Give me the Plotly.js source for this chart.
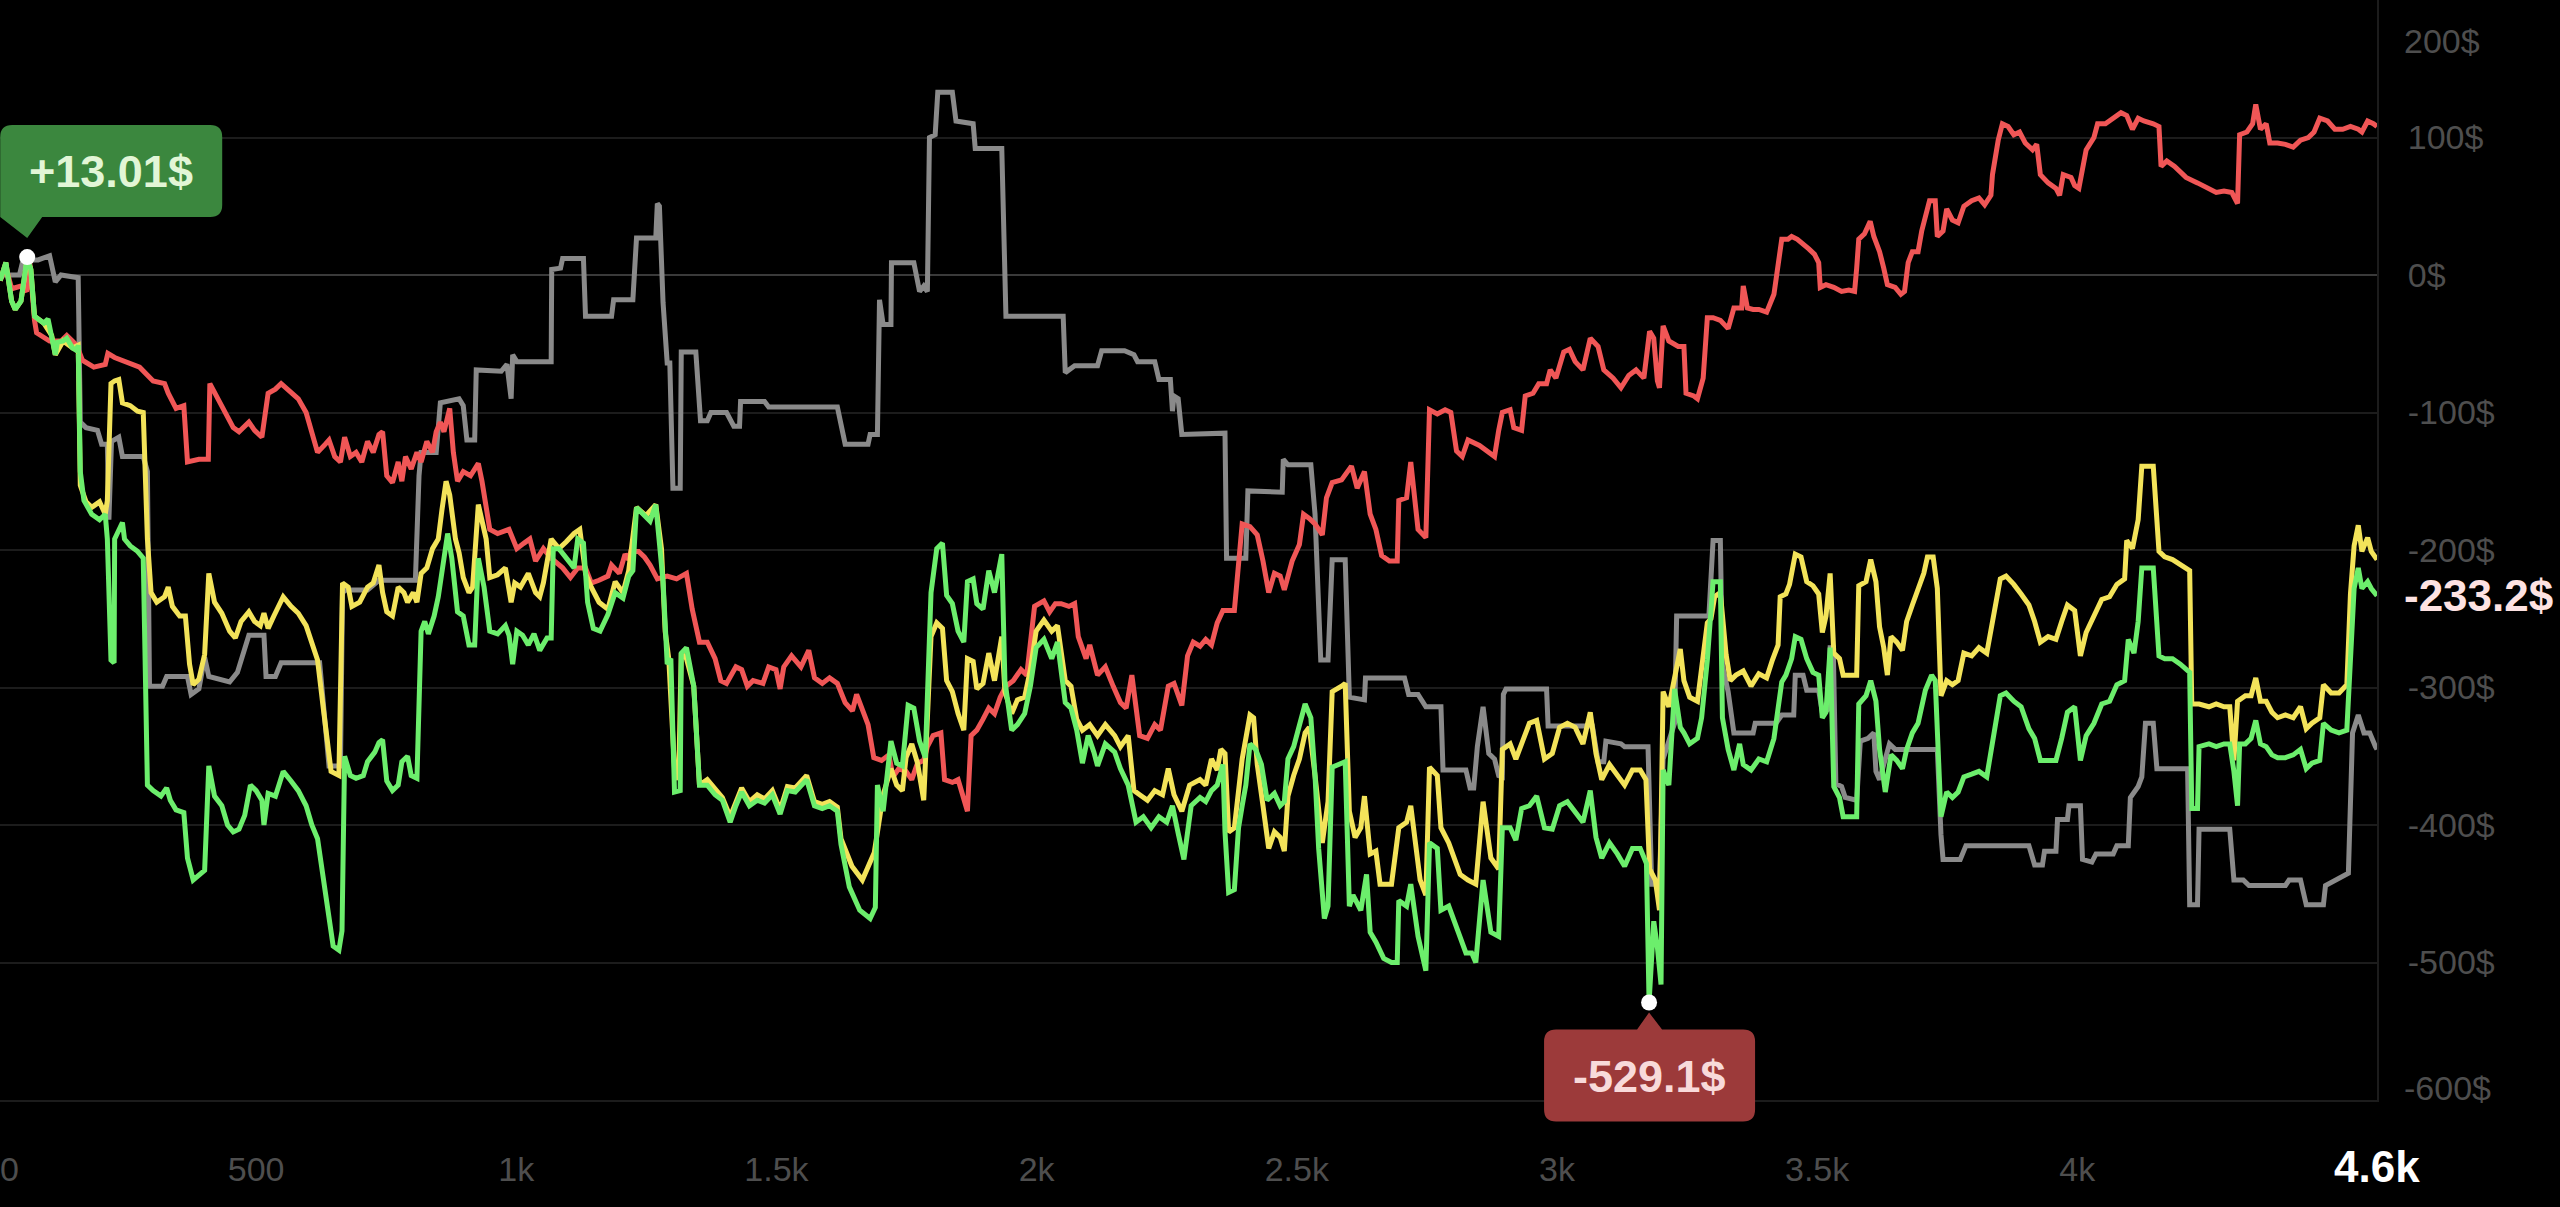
<!DOCTYPE html>
<html>
<head>
<meta charset="utf-8">
<script src="https://cdn.plot.ly/plotly-3.0.1.min.js"></script>
<style>
  html, body { margin: 0; padding: 0; background: #000; }
  #myDiv { width: 2560px; height: 1207px; }
</style>
</head>
<body>
<div id="myDiv"></div>
<script>
// series: [step, pnl $]
var grayPts = [[8,0],[45,0],[52,11],[81,11],[103,14],[114,-5],[125,0],[158,-2],[162,-107],[173,-111],[195,-113],[203,-123],[214,-123],[217,-178],[222,-121],[236,-118],[243,-132],[283,-132],[291,-143],[295,-299],[320,-299],[328,-292],[368,-292],[375,-305],[390,-301],[401,-278],[409,-292],[449,-296],[464,-289],[478,-273],[486,-262],[515,-262],[519,-292],[537,-292],[548,-282],[622,-282],[629,-312],[640,-357],[662,-357],[666,-231],[673,-229],[714,-229],[736,-222],[806,-222],[813,-146],[817,-129],[846,-129],[854,-93],[890,-90],[898,-95],[905,-120],[920,-120],[923,-69],[971,-70],[982,-65],[990,-90],[993,-58],[1001,-63],[1067,-63],[1068,4],[1085,5],[1089,12],[1129,12],[1133,-30],[1183,-30],[1187,-18],[1224,-18],[1231,27],[1268,27],[1271,52],[1275,50],[1279,16],[1282,-20],[1290,-64],[1295,-64],[1301,-155],[1315,-155],[1317,-56],[1345,-56],[1354,-106],[1367,-106],[1374,-100],[1404,-100],[1418,-110],[1429,-110],[1431,-92],[1477,-92],[1485,-96],[1617,-96],[1632,-123],[1676,-123],[1680,-116],[1694,-116],[1698,-18],[1705,-36],[1720,-36],[1721,9],[1764,9],[1775,-12],[1783,-8],[1790,-12],[1794,100],[1805,102],[1810,133],[1838,133],[1845,112],[1878,110],[1882,92],[1933,92],[1941,-30],[2051,-30],[2055,-71],[2073,-66],[2117,-66],[2125,-55],[2169,-55],[2187,-58],[2194,-63],[2227,-63],[2235,-76],[2257,-76],[2261,-99],[2264,-88],[2272,-90],[2279,-116],[2362,-115],[2365,-206],[2402,-206],[2406,-157],[2472,-158],[2474,-134],[2483,-138],[2527,-138],[2535,-174],[2546,-280],[2560,-280],[2568,-207],[2593,-207],[2601,-307],[2630,-309],[2632,-293],[2707,-293],[2715,-305],[2733,-305],[2748,-314],[2777,-314],[2781,-360],[2825,-360],[2833,-373],[2840,-373],[2847,-343],[2858,-314],[2869,-348],[2880,-352],[2888,-364],[2895,-365],[2897,-305],[2902,-301],[2980,-301],[2983,-328],[3068,-328],[3079,-354],[3090,-354],[3094,-339],[3123,-341],[3130,-343],[3175,-343],[3182,-443],[3197,-443],[3204,-352],[3226,-326],[3230,-248],[3292,-248],[3300,-193],[3314,-193],[3318,-284],[3329,-303],[3340,-333],[3377,-333],[3381,-326],[3421,-326],[3432,-320],[3455,-320],[3458,-291],[3473,-291],[3480,-302],[3503,-302],[3510,-318],[3521,-316],[3525,-271],[3531,-271],[3536,-370],[3547,-372],[3554,-380],[3576,-382],[3583,-339],[3598,-337],[3609,-333],[3613,-361],[3620,-367],[3639,-341],[3650,-345],[3731,-345],[3738,-407],[3742,-425],[3775,-425],[3786,-415],[3907,-415],[3918,-429],[3933,-429],[3937,-419],[3959,-419],[3962,-396],[3981,-396],[3984,-386],[4006,-386],[4010,-425],[4028,-427],[4036,-421],[4069,-421],[4076,-415],[4098,-415],[4102,-380],[4117,-372],[4124,-365],[4131,-326],[4146,-326],[4153,-359],[4212,-359],[4216,-458],[4231,-458],[4234,-403],[4293,-403],[4301,-440],[4319,-440],[4330,-444],[4400,-444],[4407,-440],[4429,-440],[4440,-458],[4473,-458],[4477,-444],[4518,-435],[4521,-435],[4529,-333],[4540,-320],[4551,-333],[4562,-333],[4573,-343],[4576,-345]];

var redPts = [[8,-4],[19,6],[30,-10],[48,-8],[59,-12],[65,9],[74,-33],[78,-42],[103,-48],[125,-48],[136,-44],[155,-51],[166,-62],[188,-67],[210,-65],[215,-57],[228,-60],[265,-65],[276,-67],[302,-77],[324,-79],[331,-86],[346,-97],[361,-95],[368,-136],[390,-134],[408,-134],[411,-79],[427,-90],[442,-100],[456,-111],[467,-114],[486,-107],[497,-113],[511,-118],[523,-86],[537,-83],[548,-79],[567,-86],[581,-90],[596,-100],[611,-118],[618,-129],[633,-123],[640,-120],[651,-132],[662,-136],[670,-118],[681,-132],[692,-129],[703,-136],[714,-121],[725,-129],[736,-116],[743,-114],[751,-146],[762,-151],[773,-136],[780,-150],[787,-132],[798,-141],[809,-129],[817,-136],[828,-121],[839,-129],[846,-114],[854,-107],[861,-114],[872,-97],[879,-129],[887,-150],[898,-143],[912,-146],[927,-137],[934,-150],[949,-185],[964,-188],[986,-185],[1001,-199],[1015,-195],[1026,-192],[1037,-208],[1052,-199],[1067,-206],[1089,-213],[1104,-220],[1118,-213],[1133,-213],[1144,-224],[1159,-222],[1176,-219],[1183,-211],[1198,-217],[1209,-203],[1216,-207],[1220,-201],[1235,-201],[1246,-205],[1257,-211],[1271,-221],[1290,-219],[1308,-221],[1327,-217],[1338,-243],[1352,-267],[1367,-267],[1382,-279],[1393,-295],[1404,-297],[1422,-285],[1433,-287],[1444,-299],[1455,-295],[1474,-297],[1485,-285],[1499,-287],[1507,-301],[1514,-285],[1529,-277],[1547,-285],[1562,-273],[1573,-293],[1588,-297],[1602,-293],[1617,-297],[1632,-311],[1646,-317],[1654,-305],[1668,-319],[1676,-327],[1687,-351],[1702,-353],[1716,-349],[1724,-365],[1735,-359],[1749,-361],[1760,-367],[1771,-355],[1783,-353],[1790,-343],[1801,-335],[1816,-333],[1823,-367],[1838,-369],[1849,-367],[1856,-375],[1867,-390],[1874,-335],[1885,-331],[1897,-323],[1908,-315],[1919,-319],[1930,-307],[1941,-299],[1955,-295],[1970,-287],[1981,-291],[1996,-241],[2014,-237],[2025,-245],[2036,-239],[2047,-239],[2062,-241],[2073,-239],[2080,-263],[2095,-279],[2102,-269],[2117,-291],[2132,-285],[2147,-299],[2161,-311],[2172,-315],[2183,-291],[2198,-335],[2213,-337],[2227,-327],[2238,-331],[2253,-299],[2264,-297],[2279,-313],[2290,-277],[2301,-267],[2314,-270],[2325,-265],[2336,-269],[2347,-253],[2358,-244],[2380,-244],[2388,-204],[2395,-181],[2410,-183],[2424,-189],[2435,-208],[2446,-231],[2457,-217],[2468,-219],[2476,-229],[2491,-208],[2505,-196],[2513,-174],[2524,-177],[2535,-181],[2549,-189],[2557,-162],[2568,-151],[2586,-149],[2605,-139],[2616,-155],[2630,-143],[2641,-174],[2652,-185],[2663,-204],[2678,-208],[2693,-208],[2696,-164],[2711,-162],[2719,-136],[2726,-158],[2733,-185],[2748,-191],[2755,-98],[2770,-101],[2785,-98],[2796,-100],[2807,-128],[2818,-132],[2829,-120],[2851,-124],[2880,-132],[2888,-113],[2895,-100],[2910,-98],[2917,-111],[2932,-113],[2939,-88],[2954,-86],[2965,-79],[2980,-79],[2987,-69],[2998,-75],[3013,-56],[3024,-54],[3035,-63],[3050,-69],[3064,-46],[3079,-52],[3090,-69],[3108,-75],[3123,-82],[3138,-73],[3152,-69],[3167,-75],[3178,-41],[3186,-46],[3193,-77],[3197,-82],[3204,-37],[3215,-48],[3233,-52],[3244,-52],[3248,-86],[3263,-88],[3270,-90],[3281,-75],[3289,-31],[3300,-31],[3314,-33],[3329,-39],[3340,-24],[3355,-24],[3358,-8],[3366,-24],[3377,-25],[3388,-25],[3403,-27],[3417,-14],[3425,5],[3432,26],[3444,26],[3451,28],[3462,26],[3473,23],[3484,19],[3495,15],[3503,9],[3506,-9],[3517,-7],[3532,-9],[3547,-12],[3561,-11],[3572,-12],[3576,5],[3580,26],[3591,30],[3602,39],[3609,28],[3620,17],[3628,5],[3635,-7],[3650,-9],[3661,-14],[3668,-12],[3675,9],[3683,17],[3694,17],[3701,32],[3708,44],[3716,54],[3727,54],[3731,28],[3742,32],[3749,48],[3760,40],[3771,38],[3782,50],[3797,54],[3811,56],[3822,51],[3834,58],[3837,73],[3848,98],[3856,110],[3867,108],[3878,102],[3889,104],[3900,96],[3914,91],[3922,95],[3929,73],[3944,67],[3959,63],[3966,58],[3973,73],[3988,71],[3995,65],[4003,63],[4010,77],[4017,91],[4032,100],[4039,110],[4054,110],[4069,114],[4084,118],[4095,116],[4106,106],[4117,114],[4128,112],[4146,110],[4157,108],[4161,79],[4172,83],[4187,79],[4209,71],[4231,67],[4253,63],[4267,60],[4282,61],[4297,60],[4308,52],[4312,102],[4326,104],[4337,110],[4343,124],[4352,106],[4363,110],[4370,96],[4385,96],[4400,95],[4415,93],[4429,98],[4444,100],[4455,104],[4466,114],[4481,112],[4495,106],[4510,106],[4525,108],[4540,106],[4547,104],[4558,112],[4569,110],[4576,108]];

var yellowPts = [[8,-4],[19,9],[30,-19],[37,-25],[48,-19],[53,-5],[60,12],[67,4],[74,-30],[92,-35],[107,-44],[114,-58],[129,-48],[147,-53],[158,-51],[162,-153],[173,-165],[184,-169],[199,-165],[210,-174],[214,-164],[221,-79],[228,-77],[236,-76],[243,-93],[258,-95],[272,-99],[283,-100],[291,-192],[298,-231],[309,-238],[324,-234],[331,-227],[339,-241],[353,-248],[364,-248],[372,-283],[379,-298],[390,-294],[401,-276],[409,-217],[420,-238],[434,-246],[449,-259],[460,-264],[471,-252],[486,-245],[497,-252],[508,-255],[515,-246],[523,-257],[534,-248],[552,-234],[567,-241],[581,-246],[596,-255],[607,-269],[618,-280],[629,-315],[637,-340],[644,-361],[659,-364],[666,-224],[677,-227],[684,-241],[699,-238],[714,-227],[725,-224],[736,-211],[743,-231],[751,-245],[762,-248],[773,-227],[784,-231],[791,-238],[802,-231],[809,-238],[817,-217],[828,-213],[839,-199],[850,-192],[857,-171],[865,-150],[872,-160],[883,-192],[890,-202],[898,-220],[909,-231],[916,-227],[927,-167],[934,-178],[942,-192],[949,-220],[964,-218],[979,-213],[990,-238],[997,-224],[1008,-227],[1023,-217],[1037,-231],[1045,-234],[1052,-224],[1067,-192],[1082,-199],[1096,-194],[1111,-188],[1122,-185],[1133,-217],[1144,-227],[1159,-238],[1176,-243],[1190,-223],[1205,-231],[1216,-215],[1231,-169],[1249,-175],[1268,-167],[1279,-199],[1286,-259],[1293,-279],[1304,-359],[1312,-367],[1317,-275],[1327,-279],[1341,-299],[1352,-371],[1367,-367],[1382,-374],[1396,-380],[1411,-394],[1422,-383],[1433,-373],[1448,-383],[1463,-378],[1477,-381],[1492,-375],[1507,-389],[1521,-372],[1536,-373],[1558,-364],[1573,-383],[1588,-385],[1602,-383],[1617,-387],[1624,-410],[1645,-430],[1665,-440],[1688,-420],[1705,-378],[1720,-359],[1731,-371],[1742,-375],[1749,-351],[1760,-341],[1771,-355],[1783,-382],[1797,-263],[1808,-253],[1819,-257],[1827,-295],[1838,-303],[1849,-319],[1860,-331],[1867,-279],[1878,-281],[1885,-301],[1897,-297],[1908,-275],[1919,-295],[1933,-263],[1939,-303],[1952,-319],[1963,-309],[1977,-307],[1988,-287],[1999,-259],[2014,-251],[2029,-259],[2040,-255],[2055,-295],[2066,-299],[2077,-323],[2088,-331],[2102,-327],[2117,-335],[2132,-327],[2150,-335],[2161,-343],[2176,-335],[2187,-375],[2198,-378],[2213,-382],[2227,-375],[2242,-378],[2253,-359],[2264,-378],[2279,-390],[2294,-371],[2314,-367],[2325,-371],[2336,-352],[2347,-360],[2354,-345],[2362,-348],[2369,-405],[2380,-402],[2395,-352],[2410,-320],[2417,-322],[2424,-356],[2435,-386],[2446,-417],[2457,-405],[2468,-409],[2476,-419],[2483,-379],[2494,-364],[2505,-352],[2516,-333],[2524,-329],[2535,-364],[2542,-386],[2549,-413],[2560,-383],[2568,-303],[2586,-299],[2593,-297],[2601,-390],[2612,-409],[2623,-402],[2630,-379],[2641,-421],[2652,-419],[2660,-443],[2682,-443],[2696,-402],[2711,-398],[2719,-386],[2726,-405],[2737,-440],[2748,-451],[2755,-358],[2770,-364],[2777,-402],[2792,-413],[2803,-424],[2814,-436],[2829,-440],[2844,-443],[2858,-383],[2873,-424],[2888,-432],[2895,-345],[2910,-341],[2921,-352],[2932,-341],[2947,-326],[2961,-324],[2976,-352],[2991,-348],[3005,-329],[3020,-326],[3035,-329],[3050,-341],[3064,-318],[3075,-348],[3086,-367],[3101,-356],[3116,-364],[3130,-371],[3145,-360],[3160,-360],[3171,-367],[3178,-432],[3189,-440],[3197,-462],[3200,-402],[3204,-303],[3215,-314],[3226,-291],[3237,-272],[3244,-295],[3255,-307],[3270,-310],[3281,-276],[3289,-253],[3296,-250],[3303,-234],[3314,-231],[3325,-276],[3333,-295],[3344,-291],[3358,-288],[3373,-299],[3388,-290],[3403,-293],[3414,-280],[3425,-269],[3429,-234],[3440,-232],[3447,-225],[3458,-203],[3469,-205],[3480,-223],[3492,-226],[3503,-232],[3510,-260],[3517,-248],[3525,-217],[3532,-275],[3543,-279],[3550,-291],[3576,-291],[3580,-226],[3594,-223],[3603,-207],[3613,-223],[3620,-256],[3628,-271],[3635,-291],[3642,-263],[3653,-267],[3664,-273],[3672,-252],[3683,-240],[3694,-228],[3705,-217],[3712,-205],[3723,-205],[3731,-228],[3738,-306],[3749,-295],[3760,-298],[3771,-295],[3782,-275],[3797,-277],[3811,-271],[3826,-275],[3837,-252],[3852,-221],[3863,-219],[3878,-225],[3892,-232],[3907,-240],[3918,-252],[3929,-267],[3944,-263],[3959,-265],[3970,-252],[3981,-240],[3995,-244],[4006,-277],[4017,-260],[4032,-248],[4047,-236],[4062,-234],[4076,-225],[4091,-221],[4095,-193],[4106,-199],[4117,-178],[4124,-139],[4146,-139],[4157,-201],[4168,-205],[4183,-207],[4198,-211],[4216,-215],[4220,-312],[4234,-312],[4253,-314],[4267,-312],[4282,-314],[4293,-314],[4301,-353],[4308,-310],[4323,-306],[4334,-306],[4343,-293],[4352,-310],[4363,-310],[4374,-318],[4385,-322],[4400,-320],[4415,-322],[4429,-314],[4440,-330],[4451,-326],[4466,-322],[4473,-298],[4488,-304],[4503,-304],[4518,-298],[4525,-232],[4532,-197],[4540,-182],[4547,-201],[4558,-191],[4565,-201],[4576,-207]];

var greenPts = [[8,-4],[19,9],[30,-19],[37,-25],[48,-19],[53,-5],[60,13.01],[67,4],[74,-30],[81,-32],[92,-35],[100,-32],[107,-44],[114,-58],[118,-49],[129,-48],[136,-46],[147,-53],[155,-55],[158,-51],[162,-143],[169,-164],[184,-174],[199,-178],[210,-174],[214,-192],[221,-280],[227,-282],[228,-192],[236,-185],[243,-180],[247,-192],[258,-197],[272,-201],[283,-206],[291,-371],[302,-375],[317,-379],[328,-373],[335,-382],[346,-389],[361,-391],[368,-424],[379,-440],[390,-437],[401,-433],[409,-357],[420,-379],[434,-386],[445,-400],[456,-405],[467,-403],[478,-393],[489,-371],[500,-375],[511,-382],[515,-400],[523,-377],[537,-379],[552,-361],[567,-368],[581,-375],[596,-386],[607,-400],[618,-410],[629,-438],[640,-467],[648,-488],[659,-491],[665,-477],[670,-350],[681,-364],[692,-366],[706,-364],[714,-354],[728,-347],[736,-340],[743,-338],[751,-368],[762,-375],[773,-371],[780,-354],[791,-350],[798,-364],[809,-366],[817,-259],[824,-252],[831,-261],[842,-248],[850,-234],[861,-206],[868,-188],[876,-206],[887,-245],[898,-248],[909,-269],[920,-269],[927,-206],[938,-227],[949,-259],[964,-261],[979,-255],[986,-262],[993,-283],[1001,-259],[1012,-262],[1023,-269],[1034,-261],[1045,-273],[1059,-264],[1067,-264],[1071,-199],[1082,-199],[1096,-206],[1111,-213],[1118,-192],[1129,-195],[1137,-238],[1148,-257],[1161,-259],[1176,-247],[1190,-231],[1205,-235],[1216,-219],[1224,-215],[1231,-169],[1242,-173],[1257,-179],[1268,-167],[1275,-191],[1282,-223],[1290,-283],[1297,-279],[1304,-376],[1315,-375],[1317,-275],[1327,-271],[1341,-299],[1352,-371],[1367,-371],[1382,-378],[1396,-382],[1411,-398],[1422,-386],[1433,-376],[1448,-386],[1463,-382],[1477,-384],[1492,-378],[1507,-392],[1521,-375],[1536,-376],[1558,-367],[1573,-386],[1588,-388],[1602,-386],[1617,-390],[1624,-414],[1640,-445],[1660,-462],[1680,-468],[1690,-460],[1694,-371],[1705,-390],[1720,-339],[1731,-355],[1742,-357],[1753,-313],[1764,-315],[1775,-339],[1786,-351],[1797,-231],[1808,-199],[1819,-195],[1827,-233],[1838,-239],[1849,-259],[1860,-267],[1867,-223],[1878,-221],[1885,-239],[1897,-243],[1908,-215],[1919,-231],[1933,-203],[1939,-295],[1952,-331],[1963,-327],[1977,-319],[1988,-299],[1999,-271],[2014,-265],[2029,-279],[2040,-267],[2055,-311],[2066,-315],[2077,-331],[2088,-355],[2099,-335],[2110,-347],[2117,-357],[2132,-341],[2150,-347],[2161,-359],[2176,-371],[2191,-398],[2205,-394],[2220,-402],[2235,-394],[2250,-398],[2261,-386],[2272,-406],[2283,-425],[2297,-386],[2314,-380],[2325,-383],[2336,-375],[2347,-371],[2358,-356],[2362,-405],[2369,-449],[2380,-447],[2388,-402],[2395,-386],[2402,-371],[2410,-341],[2421,-345],[2432,-356],[2443,-382],[2457,-377],[2468,-386],[2476,-383],[2483,-352],[2494,-343],[2505,-329],[2516,-312],[2527,-322],[2535,-364],[2542,-417],[2553,-468],[2560,-459],[2568,-358],[2593,-354],[2601,-459],[2608,-451],[2623,-462],[2634,-436],[2641,-478],[2652,-485],[2667,-497],[2682,-500],[2693,-500],[2696,-455],[2711,-459],[2719,-443],[2726,-462],[2733,-481],[2748,-506],[2755,-413],[2770,-417],[2777,-462],[2792,-459],[2803,-470],[2814,-481],[2825,-493],[2836,-493],[2844,-500],[2858,-440],[2873,-478],[2888,-481],[2895,-402],[2910,-402],[2921,-411],[2932,-388],[2947,-386],[2961,-379],[2976,-402],[2991,-403],[3005,-386],[3020,-383],[3035,-390],[3050,-398],[3064,-375],[3075,-409],[3086,-424],[3101,-413],[3116,-421],[3130,-430],[3145,-417],[3160,-417],[3172,-428],[3177,-529.1],[3186,-470],[3193,-489],[3200,-516],[3204,-360],[3215,-371],[3226,-301],[3237,-329],[3244,-333],[3255,-341],[3270,-337],[3278,-322],[3289,-280],[3300,-223],[3314,-223],[3318,-322],[3329,-345],[3340,-360],[3351,-341],[3358,-356],[3373,-360],[3388,-352],[3403,-354],[3417,-337],[3425,-318],[3432,-296],[3440,-291],[3451,-279],[3458,-263],[3469,-265],[3480,-279],[3492,-289],[3503,-291],[3510,-322],[3517,-318],[3525,-271],[3532,-372],[3543,-380],[3550,-394],[3576,-394],[3580,-312],[3594,-306],[3603,-295],[3613,-310],[3620,-345],[3631,-376],[3642,-349],[3653,-353],[3664,-359],[3672,-345],[3683,-333],[3694,-326],[3708,-302],[3720,-291],[3727,-295],[3738,-394],[3749,-376],[3760,-380],[3771,-376],[3782,-365],[3797,-363],[3811,-361],[3826,-365],[3837,-341],[3852,-306],[3863,-304],[3878,-310],[3892,-314],[3907,-330],[3918,-337],[3929,-353],[3944,-353],[3959,-353],[3970,-337],[3981,-318],[3995,-314],[4006,-353],[4017,-335],[4032,-326],[4047,-312],[4062,-310],[4076,-298],[4091,-295],[4098,-265],[4109,-275],[4117,-252],[4124,-213],[4146,-213],[4157,-277],[4168,-279],[4183,-279],[4198,-283],[4216,-289],[4220,-388],[4231,-388],[4234,-343],[4253,-341],[4267,-343],[4282,-341],[4293,-341],[4301,-361],[4308,-386],[4312,-341],[4323,-341],[4334,-337],[4343,-324],[4352,-341],[4363,-343],[4374,-349],[4385,-351],[4400,-351],[4415,-349],[4429,-345],[4440,-359],[4451,-355],[4466,-353],[4473,-326],[4488,-331],[4503,-333],[4518,-331],[4525,-287],[4532,-228],[4540,-213],[4547,-228],[4558,-223],[4565,-228],[4576,-233.2]];

// extremes marked on the chart
var markX = [60, 3177];
var markY = [13.01, -529.1];
var markText = ['+13.01$', '-529.1$'];

var xTickVals = [500, 1000, 1500, 2000, 2500, 3000, 3500, 4000];
var xTickText = ['500', '1k', '1.5k', '2k', '2.5k', '3k', '3.5k', '4k'];
var yTickVals = [100, 0, -100, -200, -300, -400, -500];
var yTickText = ['100$', '0$', '-100$', '-200$', '-300$', '-400$', '-500$'];
var yRange = [-600, 200];
var xRange = [7.7, 4576];
var lastX = '4.6k';
var lastY = -233.2;

var FONT = '"Liberation Sans", Arial, Helvetica, sans-serif';
var AXIS_GRAY = '#4e4e4e';

function lineTrace(pts, color) {
  return {
    x: pts.map(function(p) { return p[0]; }),
    y: pts.map(function(p) { return p[1]; }),
    mode: 'lines',
    type: 'scatter',
    line: { color: color, width: 5, shape: 'linear' },
    hoverinfo: 'skip'
  };
}

var data = [
  lineTrace(grayPts, '#8a8a8a'),
  lineTrace(redPts, '#f05656'),
  lineTrace(yellowPts, '#f3e35a'),
  lineTrace(greenPts, '#6cee6c'),
  { x: markX, y: markY, mode: 'markers', type: 'scatter', cliponaxis: false,
    marker: { color: '#ffffff', size: 16 }, hoverinfo: 'skip' }
];

function paperY(v) { return (v - yRange[0]) / (yRange[1] - yRange[0]); }

// callout bubbles, drawn in pixels around the marked point
var shapes = [
  { type: 'path', xref: 'x', yref: 'paper', xsizemode: 'pixel', ysizemode: 'pixel',
    xanchor: markX[0], yanchor: paperY(markY[0]), layer: 'above',
    path: 'M -27,40 L -27,120 Q -27,132 -15,132 L 183,132 Q 195,132 195,120 L 195,52 Q 195,40 183,40 L 15,40 L 0,19 Z',
    fillcolor: '#3b873e', line: { width: 0 } },
  { type: 'path', xref: 'x', yref: 'paper', xsizemode: 'pixel', ysizemode: 'pixel',
    xanchor: markX[1], yanchor: paperY(markY[1]), layer: 'above',
    path: 'M -12,-27 L 0,-10 L 13,-27 L 94,-27 Q 106,-27 106,-39 L 106,-107 Q 106,-119 94,-119 L -93,-119 Q -105,-119 -105,-107 L -105,-39 Q -105,-27 -93,-27 Z',
    fillcolor: '#9c3a3a', line: { width: 0 } }
];

var annotations = [
  { x: markX[0], y: markY[0], xref: 'x', yref: 'y', text: markText[0], showarrow: false,
    xshift: 84, yshift: 86, font: { family: FONT, size: 45, color: '#e2f6d6', weight: 'bold' } },
  { x: markX[1], y: markY[1], xref: 'x', yref: 'y', text: markText[1], showarrow: false,
    xshift: 0, yshift: -74, font: { family: FONT, size: 45, color: '#f8dada', weight: 'bold' } },
  { x: 1, y: lastY, xref: 'paper', yref: 'y', xanchor: 'left', text: lastY.toFixed(1) + '$', showarrow: false,
    xshift: 25, font: { family: FONT, size: 44, color: '#fde2e2', weight: 'bold' } },
  { x: 1, y: 1, xref: 'paper', yref: 'paper', xanchor: 'left', yanchor: 'middle', text: yRange[1] + '$',
    showarrow: false, xshift: 25, yshift: -41, font: { family: FONT, size: 34, color: AXIS_GRAY } },
  { x: 1, y: 0, xref: 'paper', yref: 'paper', xanchor: 'left', yanchor: 'middle', text: yRange[0] + '$',
    showarrow: false, xshift: 25, yshift: 12, font: { family: FONT, size: 34, color: AXIS_GRAY } },
  { x: 0, y: 0, xref: 'paper', yref: 'paper', xanchor: 'left', yanchor: 'middle', text: '0',
    showarrow: false, xshift: -2, yshift: -69, font: { family: FONT, size: 34, color: AXIS_GRAY } },
  { x: xRange[1], y: 0, xref: 'x', yref: 'paper', xanchor: 'center', yanchor: 'middle', text: lastX,
    showarrow: false, yshift: -66, font: { family: FONT, size: 44, color: '#ffffff', weight: 'bold' } }
];

var layout = {
  width: 2560,
  height: 1207,
  paper_bgcolor: '#000000',
  plot_bgcolor: '#000000',
  margin: { l: 0, r: 183, t: 0, b: 107, pad: 0 },
  showlegend: false,
  hovermode: false,
  font: { family: FONT },
  xaxis: {
    range: xRange,
    tickmode: 'array',
    tickvals: xTickVals,
    ticktext: xTickText,
    showgrid: false,
    zeroline: false,
    showline: true,
    mirror: true,
    linecolor: '#1c1c1c',
    linewidth: 2,
    ticks: '',
    ticklabelstandoff: 38,
    tickfont: { family: FONT, size: 34, color: AXIS_GRAY }
  },
  yaxis: {
    range: yRange,
    side: 'right',
    tickmode: 'array',
    tickvals: yTickVals,
    ticktext: yTickText,
    showgrid: true,
    gridcolor: '#1c1c1c',
    gridwidth: 2,
    zeroline: true,
    zerolinecolor: '#3a3a3a',
    zerolinewidth: 2,
    showline: true,
    mirror: true,
    linecolor: '#1c1c1c',
    linewidth: 2,
    ticks: '',
    ticklabelstandoff: 22,
    tickfont: { family: FONT, size: 34, color: AXIS_GRAY }
  },
  shapes: shapes,
  annotations: annotations
};

var config = { displayModeBar: false, staticPlot: true };

Plotly.newPlot('myDiv', data, layout, config);
</script>
</body>
</html>
